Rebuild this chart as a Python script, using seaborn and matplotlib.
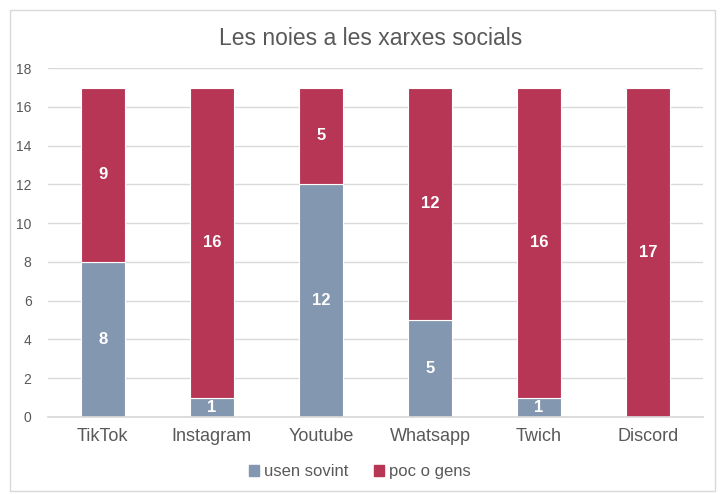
import pandas as pd
import matplotlib.pyplot as plt
import matplotlib.patches as mpatches
import seaborn as sns

# --- DATA ---
platforms = ['TikTok', 'Instagram', 'Youtube', 'Whatsapp', 'Twich', 'Discord']
usen_sovint = [8, 1, 12, 5, 1, 0]
poc_o_gens = [9, 16, 5, 12, 16, 17]
series_names = ['usen sovint', 'poc o gens']
y_ticks = [0, 2, 4, 6, 8, 10, 12, 14, 16, 18]

colors = ['#8497B0', '#B83655']

df = pd.DataFrame({'platform': platforms, 'usen': usen_sovint, 'poc': poc_o_gens})

sns.set_theme(style="white")
plt.rcParams['font.family'] = ['Liberation Sans', 'DejaVu Sans']

fig = plt.figure(figsize=(7.2, 4.94), dpi=100)
ax = fig.add_axes([0.067, 0.156, 0.909, 0.706])

# outer chart border
fig.patches.append(mpatches.Rectangle((0.014, 0.006), 0.979, 0.974, transform=fig.transFigure,
                                      fill=False, edgecolor='#d9d9d9', linewidth=1))

sns.barplot(data=df, x='platform', y='usen', color=colors[0], saturation=1, width=0.4,
            edgecolor='white', linewidth=0.8, ax=ax)
sns.barplot(data=df, x='platform', y='poc', color=colors[1], saturation=1, width=0.4,
            bottom=df['usen'], edgecolor='white', linewidth=0.8, ax=ax)

# segment labels
for i, (u, p) in enumerate(zip(usen_sovint, poc_o_gens)):
    if u > 0:
        ax.text(i, u / 2, str(u), ha='center', va='center', color='white',
                fontsize=12, fontweight='bold')
    if p > 0:
        ax.text(i, u + p / 2, str(p), ha='center', va='center', color='white',
                fontsize=12, fontweight='bold')

ax.set_ylim(0, 18)
ax.set_yticks(y_ticks)
ax.set_xlim(-0.5, len(platforms) - 0.5)
ax.yaxis.grid(True, color='#d9d9d9', linewidth=1)
ax.set_axisbelow(True)
for s in ['left', 'right', 'top']:
    ax.spines[s].set_visible(False)
ax.spines['bottom'].set_color('#d9d9d9')
ax.tick_params(axis='y', labelsize=10, colors='#595959', length=0, pad=12)
ax.tick_params(axis='x', labelsize=13, colors='#595959', length=0, pad=8)
ax.set_xlabel('')
ax.set_ylabel('')

fig.suptitle('Les noies a les xarxes socials', x=0.515, y=0.945, fontsize=16.5, color='#595959')

handles = [mpatches.Patch(color=c) for c in colors]
fig.legend(handles, series_names, loc='center', bbox_to_anchor=(0.5, 0.045), ncol=2,
           frameon=False, fontsize=12, labelcolor='#595959', handlelength=0.6,
           handleheight=0.6, handletextpad=0.3, columnspacing=1.5)

fig.savefig('out.png', dpi=100)
